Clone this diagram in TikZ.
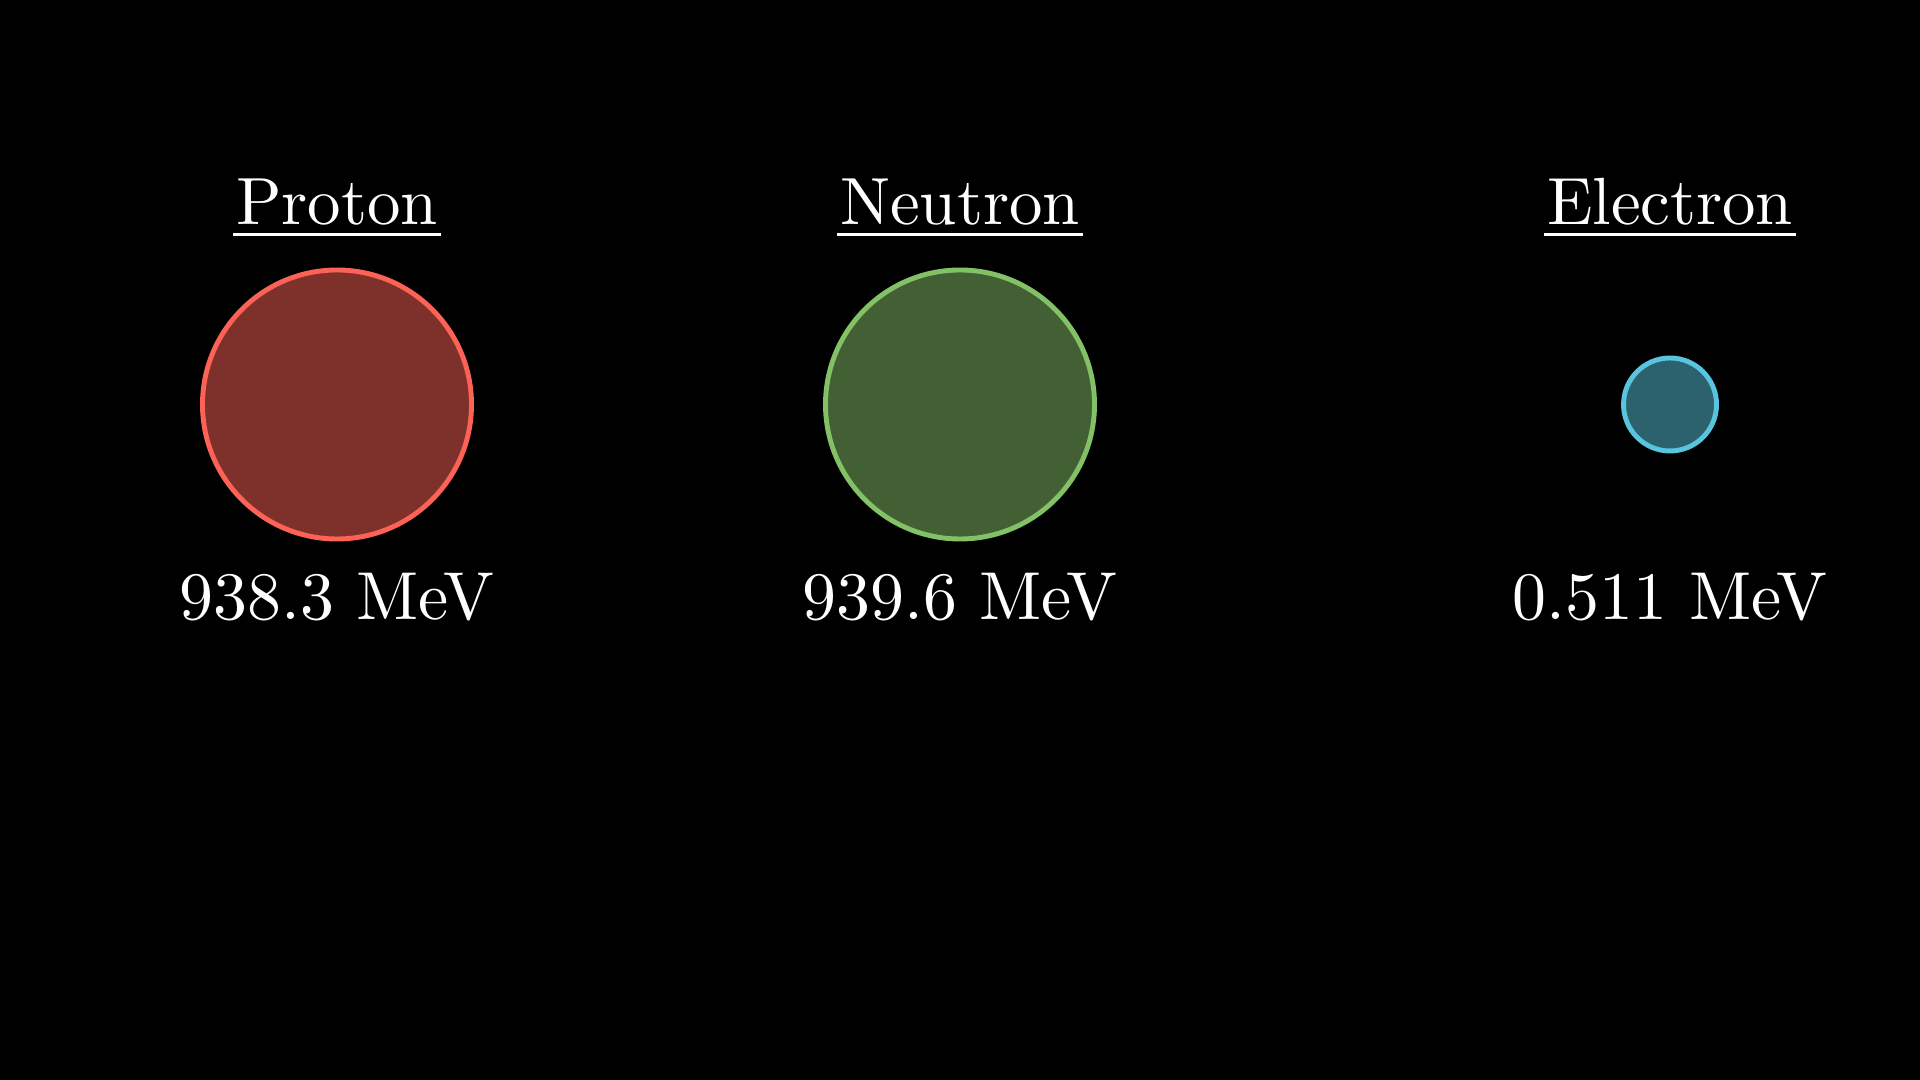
\documentclass[tikz,border=0pt]{standalone}
\usepackage{tikz}
\usetikzlibrary{positioning}
\definecolor{protonred}{HTML}{FC6255}
\definecolor{neutrongreen}{HTML}{83C167}
\definecolor{electronblue}{HTML}{58C4DD}
\tikzset{
  particle/.style={circle,draw=#1,fill=#1!50!black,line width=1.4pt,inner sep=0pt},
  title/.style={text=white,inner sep=0pt,anchor=base,scale=1.9,transform shape},
  mass/.style={text=white,inner sep=0pt,anchor=base,scale=1.93,transform shape},
  uline/.style={draw=white,line width=0.85pt}
}

\begin{document}
\begin{tikzpicture}
  \fill[black] (0,0) rectangle (19.2,10.8);
  \useasboundingbox (0,0) rectangle (19.2,10.8);
  % particle, centre, diameter, colour, name, mass
  \foreach \name/\x/\dia/\col/\lbl/\val in {
      p/3.37/2.69cm/protonred/Proton/938.3,
      n/9.60/2.69cm/neutrongreen/Neutron/939.6,
      e/16.70/0.93cm/electronblue/Electron/0.511} {
    \node[particle=\col,minimum size=\dia] (\name) at (\x,6.755) {};
    \node[title] (\name title) at (\x,8.55) {\lbl};
    \node[mass] (\name mass) at (\x,4.60) {\val{} MeV};
    \draw[uline] ([xshift=-0.02cm,yshift=-0.095cm]\name title.base west)
      -- ([xshift=0.02cm,yshift=-0.095cm]\name title.base east);
  }
\end{tikzpicture}
\end{document}
